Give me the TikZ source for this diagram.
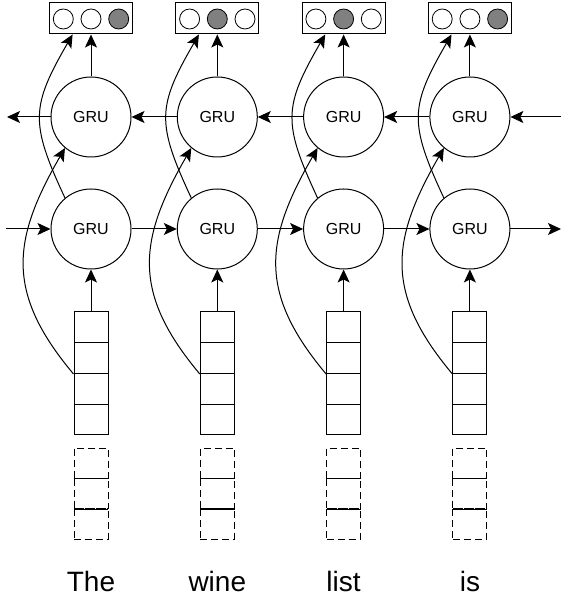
\documentclass[tikz,border=0pt]{standalone}
\usepackage{fontspec}
\setmainfont{Liberation Sans}
\usetikzlibrary{arrows.meta}
\tikzset{
  gru/.style={circle,draw,line width=1pt,minimum size=80pt,inner sep=0pt,font=\fontsize{16}{16}\selectfont},
  outbox/.style={rectangle,draw,line width=1pt,minimum width=83pt,minimum height=31pt,inner sep=0pt},
  dot/.style={circle,draw,line width=0.8pt,minimum size=20pt,inner sep=0pt},
  cell/.style={rectangle,draw,line width=1pt,minimum width=34pt,minimum height=30.75pt,inner sep=0pt},
  pad/.style={rectangle,draw,dash pattern=on 7pt off 4pt,line width=0.9pt,minimum width=34pt,minimum height=30.33pt,inner sep=0pt},
  word/.style={anchor=base,font=\fontsize{28}{28}\selectfont},
  arr/.style={line width=1pt,-{Stealth[length=13pt,width=12pt,inset=3pt]}}
}
\begin{document}
\begin{tikzpicture}[x=1pt,y=1pt]
\useasboundingbox (0,0) rectangle (561,599);
\foreach \i/\w/\fa/\fb/\fc in {1/The/white/white/black!50,2/wine/white/black!50/white,3/list/white/black!50/white,4/is/white/white/black!50} {
  \pgfmathsetmacro\x{91+126.3*(\i-1)}
  \node[gru] (gruT\i) at (\x,482) {GRU};
  \node[gru] (gruB\i) at (\x,370) {GRU};
  \node[outbox] (out\i) at (\x,580.5) {};
  \node[dot,fill=\fa] (o\i-1) at (\x-27.7,580) {};
  \node[dot,fill=\fb] (o\i-2) at (\x,580) {};
  \node[dot,fill=\fc] (o\i-3) at (\x+27.7,580) {};
  \foreach \k in {1,...,4} \node[cell] (in\i-\k) at (\x,{287-30.75*(\k-0.5)}) {};
  \foreach \k in {1,2,3} \node[pad] (pad\i-\k) at (\x,{151-30.33*(\k-0.5)}) {};
  \draw[line width=0.9pt] (pad\i-1.south west) -- (pad\i-1.south east) (pad\i-2.south west) -- (pad\i-2.south east);
  \node[word] (w\i) at (\x,7) {\w};
  % vertical and skip connections
  \draw[arr] (in\i-1.north) -- (gruB\i.south);
  \draw[arr] (gruT\i.north) -- (out\i.south);
  \draw[arr] (in\i-2.south west) to[out=130,in=240,looseness=1.2] (gruT\i.230);
  \draw[arr] (gruB\i.130) to[out=115,in=240,looseness=1.3] (out\i.221);
}
\foreach \i/\j in {1/2,2/3,3/4} {
  \draw[arr] (gruB\i.east) -- (gruB\j.west);
  \draw[arr] (gruT\j.west) -- (gruT\i.east);
}
\coordinate (lt) at (7,482);
\coordinate (rt) at (561,482);
\coordinate (lb) at (6,370);
\coordinate (rb) at (561,370);
\draw[arr] (gruT1.west) -- (lt);
\draw[arr] (rt) -- (gruT4.east);
\draw[arr] (lb) -- (gruB1.west);
\draw[arr] (gruB4.east) -- (rb);
\end{tikzpicture}
\end{document}
